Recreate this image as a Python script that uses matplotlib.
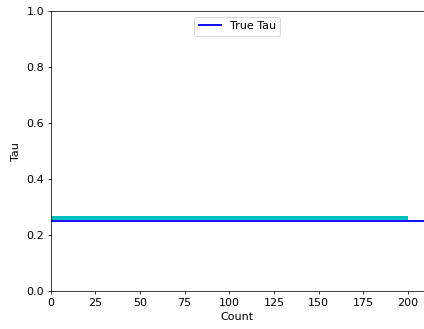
import numpy as np
import matplotlib
matplotlib.use("Agg")
from matplotlib import pyplot as plt

plt.rcParams['font.size'] = 12

# estimated tau band over the sample counts, and the true value
count = np.arange(0, 201)
tau_low = 0.256
tau_high = 0.270
true_tau = 0.25

fig = plt.figure(figsize=(6.4, 329 / 66.4), dpi=66.4)
ax = fig.add_axes([0.119, 0.114, 0.879, 0.852])

ax.fill_between(count, tau_low, tau_high, color='c', linewidth=0)
ax.axhline(true_tau, color='b', lw=2, label='True Tau')

ax.set_xlim(0, 209)
ax.set_ylim(0, 1)
ax.set_xlabel('Count', labelpad=4)
ax.set_ylabel('Tau', labelpad=6)
ax.legend(loc='upper center')

fig.savefig('out.png', dpi=66.4)
